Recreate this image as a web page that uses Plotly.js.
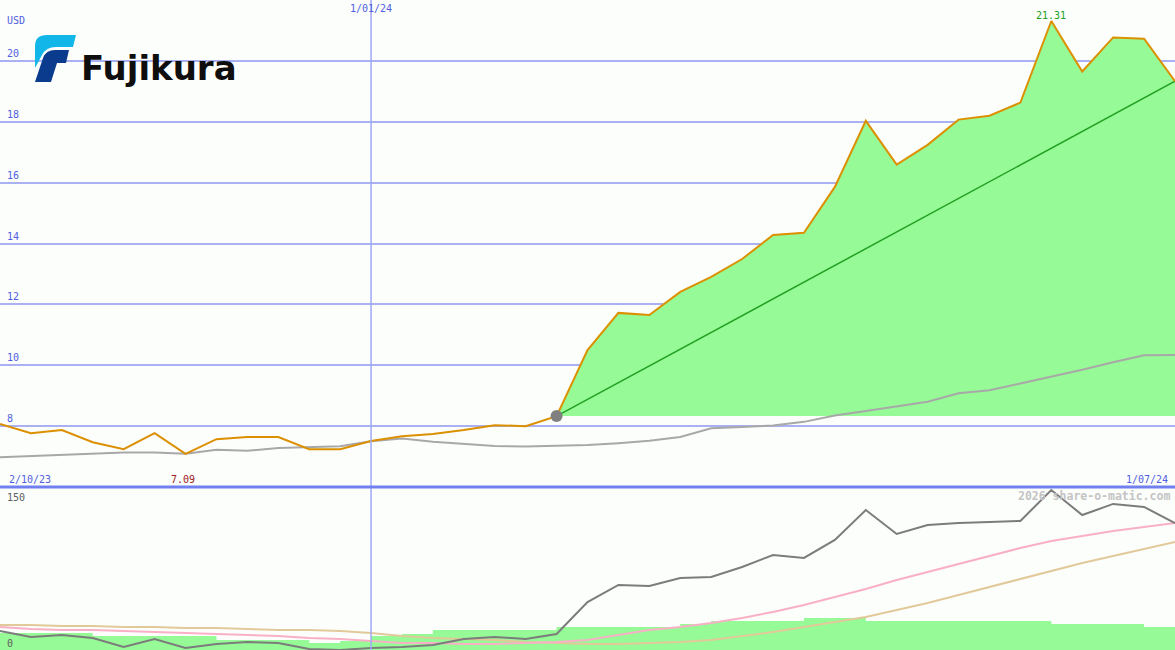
<!DOCTYPE html>
<html>
<head>
<meta charset="utf-8">
<script src="https://cdn.plot.ly/plotly-3.0.1.min.js"></script>
<style>html,body{margin:0;padding:0;background:#fcfefc;}#chart{width:1175px;height:650px;}</style>
</head>
<body>
<div id="chart"></div>
<script>
// ---- data ----
const dates = ['2023-10-09','2023-10-16','2023-10-23','2023-10-30','2023-11-06','2023-11-13','2023-11-20','2023-11-27',
  '2023-12-04','2023-12-11','2023-12-18','2023-12-25','2024-01-01','2024-01-08','2024-01-15','2024-01-22','2024-01-29',
  '2024-02-05','2024-02-12','2024-02-19','2024-02-26','2024-03-04','2024-03-11','2024-03-18','2024-03-25','2024-04-01',
  '2024-04-08','2024-04-15','2024-04-22','2024-04-29','2024-05-06','2024-05-13','2024-05-20','2024-05-27','2024-06-03',
  '2024-06-10','2024-06-17','2024-06-24','2024-07-01'];
const price = [8.07,7.77,7.87,7.47,7.24,7.77,7.09,7.57,7.64,7.64,7.24,7.24,7.51,7.67,7.74,7.87,8.03,8.00,8.33,10.50,
  11.72,11.65,12.41,12.90,13.49,14.28,14.35,15.86,18.03,16.59,17.24,18.07,18.20,18.63,21.31,19.65,20.77,20.73,19.33];
const priceMA = [6.98,7.02,7.06,7.08,7.13,7.13,7.09,7.22,7.19,7.28,7.32,7.34,7.50,7.59,7.49,7.42,7.35,7.33,7.36,7.38,
  7.44,7.52,7.64,7.93,7.97,8.02,8.14,8.35,8.50,8.65,8.80,9.08,9.18,9.40,9.62,9.85,10.10,10.33,10.34];
const relLine = [19.5,13.4,15.4,12.3,3.1,11.3,2.1,6.2,8.2,7.2,1.0,0,2.1,3.1,5.1,11.3,13.4,11.3,16.4,49.3,66.8,65.8,
  74.0,75.0,85.3,97.6,94.6,113.1,143.9,119.2,128.5,130.5,131.6,132.6,164.4,138.7,150.1,147.0,130.5];
const relPink = [23.6,21.6,20.6,20.6,19.5,18.5,17.5,16.4,15.4,14.4,12.3,11.3,9.2,7.2,7.2,6.2,6.2,7.2,8.2,10.3,15.4,
  20.6,23.6,27.7,32.9,39.1,46.2,54.5,62.7,71.9,80.2,88.4,96.6,104.8,112.0,117.2,122.3,126.4,130.5];
const relTan = [25.7,25.7,24.7,24.7,23.6,23.6,22.6,22.6,21.6,20.6,20.6,19.5,17.5,14.4,12.3,11.3,10.3,8.2,7.2,6.2,6.2,
  7.2,8.2,10.3,14.4,18.5,23.6,28.8,33.9,41.1,48.3,56.5,64.7,73.0,81.2,89.4,96.6,103.8,111.0];
const volume = [17.5,17.5,17.5,14.4,14.4,14.4,14.4,10.3,10.3,10.3,7.2,9.2,14.4,16.4,20.6,20.6,20.6,20.6,23.6,23.6,
  23.6,23.6,26.7,29.8,29.8,29.8,32.9,32.9,29.8,29.8,29.8,29.8,29.8,29.8,26.7,26.7,26.7,23.6,23.6];
const priceTicks = [8,10,12,14,16,18,20];
const lowerTicks = [0,150];
const startIdx = 18;           // start of highlighted rise
const markerDate = '2024-01-01';
const labelStart = '2/10/23', labelMid = '1/01/24', labelEnd = '1/07/24';
const currency = 'USD';
const company = 'Fujikura';
const credit = '2026 share-o-matic.com';

// ---- helpers ----
const W = 1175, H = 650;
const px = x => x / W;
const py = y => 1 - y / H;
const splitY = 487;
const FONT = 'DejaVu Sans Mono';

const minIdx = price.indexOf(Math.min(...price));
const maxIdx = price.indexOf(Math.max(...price));
const riseDates = dates.slice(startIdx);
const riseVals = price.slice(startIdx);
const baseVals = riseDates.map(() => price[startIdx]);

const traces = [
  // lower panel
  {x: dates, y: volume, xaxis:'x', yaxis:'y2', mode:'lines', line:{shape:'hv', width:0, color:'#96fa96'},
   fill:'tozeroy', fillcolor:'#96fa96'},
  {x: dates, y: relTan, xaxis:'x', yaxis:'y2', mode:'lines', line:{color:'#e2c99a', width:2}},
  {x: dates, y: relPink, xaxis:'x', yaxis:'y2', mode:'lines', line:{color:'#f9b0c6', width:2}},
  {x: dates, y: relLine, xaxis:'x', yaxis:'y2', mode:'lines', line:{color:'#7c7c7c', width:2}},
  // top panel
  {x: riseDates, y: baseVals, xaxis:'x', yaxis:'y', mode:'lines', line:{width:0}},
  {x: riseDates, y: riseVals, xaxis:'x', yaxis:'y', mode:'lines', line:{width:0}, fill:'tonexty', fillcolor:'#96fa96'},
  {x: dates, y: priceMA, xaxis:'x', yaxis:'y', mode:'lines', line:{color:'#a8a8a8', width:2}},
  {x: [dates[startIdx], dates[dates.length-1]], y: [price[startIdx], price[price.length-1]], xaxis:'x', yaxis:'y',
   mode:'lines', line:{color:'#22a022', width:1.5}},
  {x: dates, y: price, xaxis:'x', yaxis:'y', mode:'lines', line:{color:'#dc9000', width:2}},
  {x: [dates[startIdx]], y: [price[startIdx]], xaxis:'x', yaxis:'y', mode:'markers',
   marker:{size:12, color:'#808080'}}
];

const annotations = [];
const lab = (text, x, y, xanchor, color, size, extra) => Object.assign({
  text, x, y, xref:'paper', yref:'paper', xanchor, yanchor:'middle', showarrow:false,
  font:{family:FONT, size:size||10, color}}, extra||{});
annotations.push(lab(currency, px(5), py(20), 'left', '#5060e0'));
priceTicks.forEach(v => annotations.push({text:String(v), x:px(5), y:v, xref:'paper', yref:'y', xanchor:'left',
  yanchor:'bottom', yshift:0, showarrow:false, font:{family:FONT, size:10, color:'#5060e0'}}));
lowerTicks.forEach(v => annotations.push({text:String(v), x:px(5), y:v, xref:'paper', yref:'y2', xanchor:'left',
  yanchor:'bottom', yshift:-1, showarrow:false, font:{family:FONT, size:10, color:'#606060'}}));
annotations.push(lab(labelMid, markerDate, py(9), 'center', '#5060e0', 10, {xref:'x'}));
annotations.push(lab(labelStart, px(7), py(479), 'left', '#5060e0'));
annotations.push(lab(labelEnd, px(1170), py(479), 'right', '#5060e0'));
annotations.push(lab(price[minIdx].toFixed(2), dates[minIdx], py(479), 'center', '#a02020', 10, {xref:'x', xshift:-3}));
annotations.push({text: price[maxIdx].toFixed(2), x: dates[maxIdx], y: price[maxIdx], xref:'x', yref:'y',
  xanchor:'center', yanchor:'bottom', yshift:-2, showarrow:false, font:{family:FONT, size:10, color:'#20a020'}});
annotations.push(lab('<b>'+credit+'</b>', px(1172), py(496), 'right', '#c4c4c4', 11.5));
annotations.push({text:'<b>'+company+'</b>', x:px(79), y:py(68), xref:'paper', yref:'paper', xanchor:'left',
  yanchor:'middle', showarrow:false, font:{family:'DejaVu Sans', size:34, color:'#0e0e0e'}});

function pathPx(cmds) {
  return cmds.map(c => {
    const t = c[0], n = c.slice(1);
    const out = [];
    for (let i = 0; i < n.length; i += 2) out.push(px(n[i]).toFixed(5) + ',' + py(n[i+1]).toFixed(5));
    return t + out.join(' ');
  }).join(' ') + ' Z';
}

const shapes = [
  {type:'line', xref:'x', yref:'paper', x0:markerDate, x1:markerDate, y0:0, y1:1, line:{color:'#a0a8f8', width:1.5}},
  {type:'line', xref:'paper', yref:'paper', x0:0, x1:1, y0:py(splitY), y1:py(splitY), line:{color:'#7080ee', width:3}},
  {type:'path', xref:'paper', yref:'paper', fillcolor:'#0a3b8c', line:{width:0},
   path: pathPx([['M',35,82],['L',43,58],['Q',46,50,55,50],['L',69,50],['L',66,63],['L',57,63],['L',51,82]])},
  {type:'path', xref:'paper', yref:'paper', fillcolor:'#12b6e8', line:{width:0},
   path: pathPx([['M',35,68],['L',35,46],['Q',35,35,47,35],['L',76,35],['L',73,47],['L',56,47],['Q',46,47,42,55]])}
];

const layout = {
  width: W, height: H,
  margin: {l:0, r:0, t:0, b:0},
  paper_bgcolor:'#fcfefc', plot_bgcolor:'#fcfefc',
  showlegend:false, hovermode:false,
  xaxis: {type:'date', range:[dates[0], dates[dates.length-1]], showgrid:false, showticklabels:false,
    zeroline:false, showline:false, ticks:'', anchor:'y2'},
  yaxis: {domain:[py(splitY), 1], range:[6, 22], tickvals:priceTicks, showgrid:true, gridcolor:'#a9b1f2',
    gridwidth:2, showticklabels:false, zeroline:false, showline:false, ticks:''},
  yaxis2: {domain:[0, py(splitY)], range:[0, 167.5], showgrid:false, showticklabels:false, zeroline:false,
    showline:false, ticks:''},
  annotations, shapes
};

Plotly.newPlot('chart', traces, layout, {displayModeBar:false, staticPlot:true});
</script>
</body>
</html>
